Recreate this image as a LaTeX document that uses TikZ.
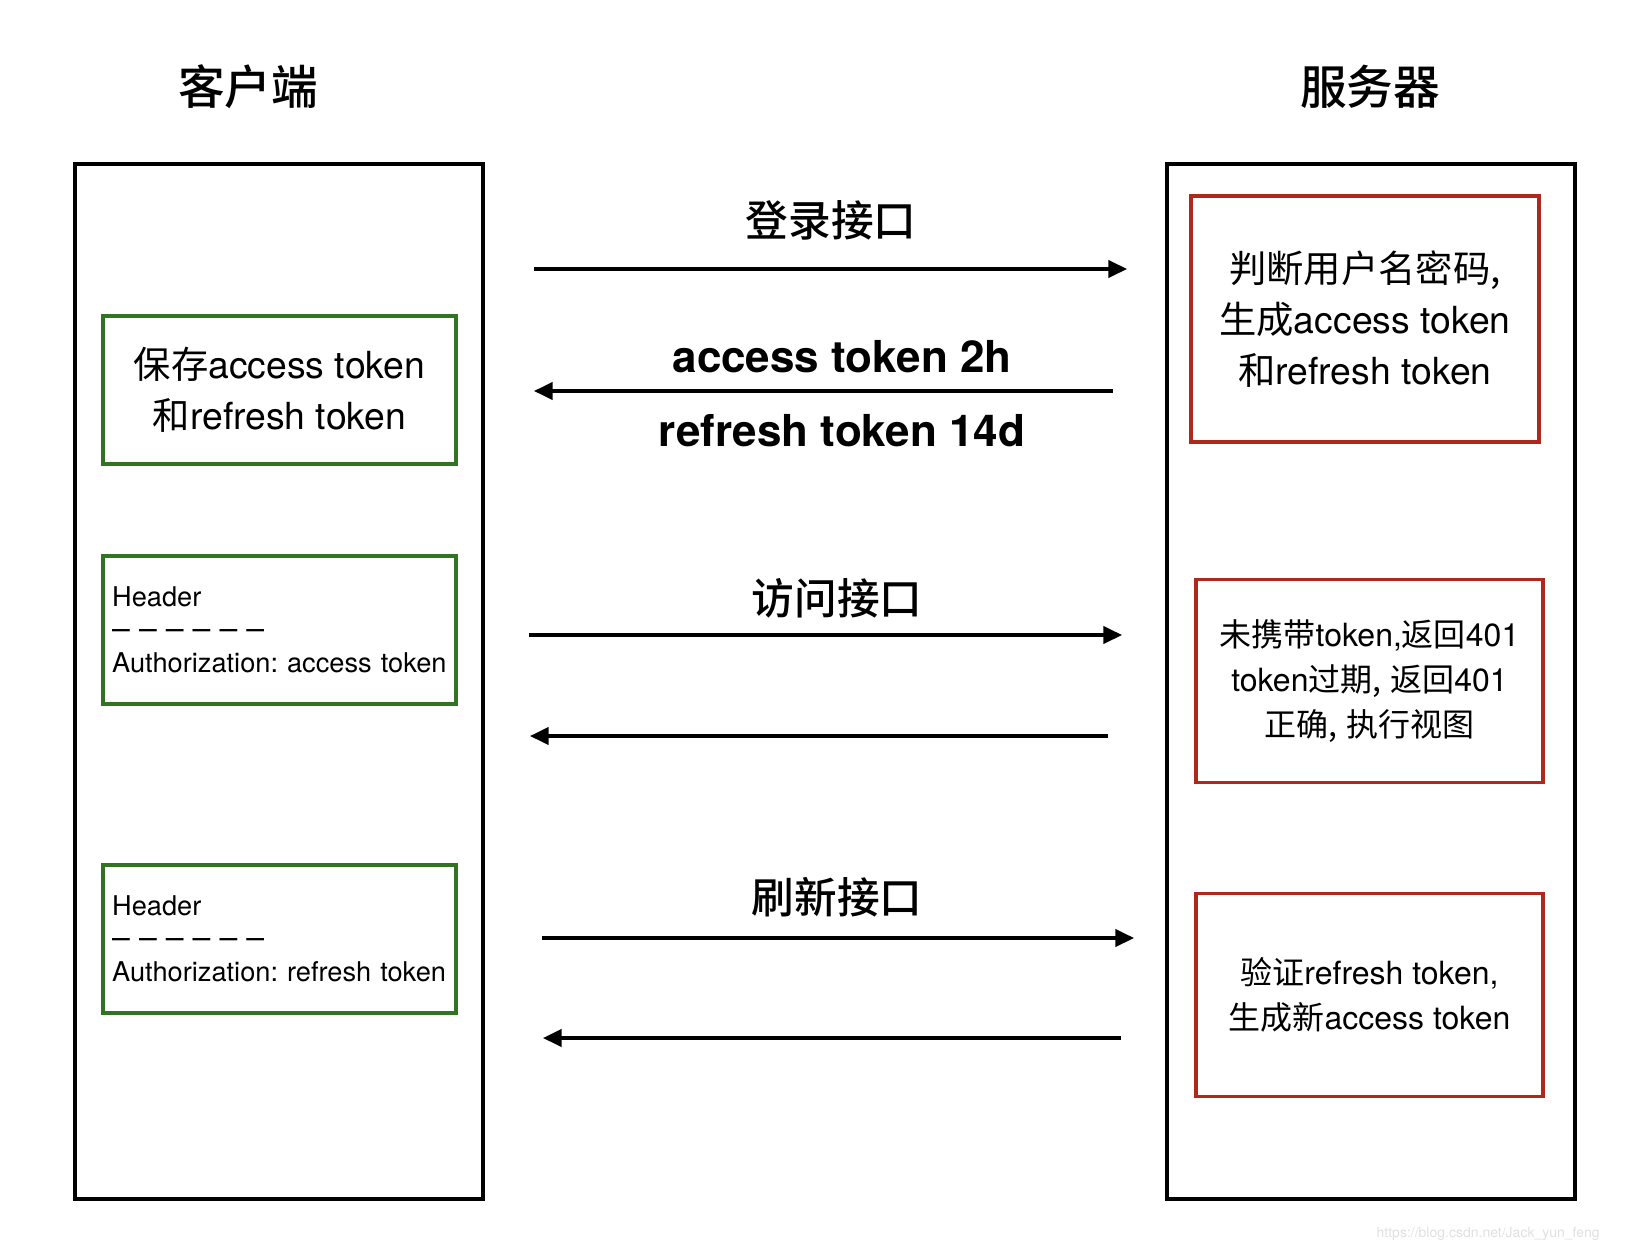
\documentclass[tikz,border=0pt]{standalone}
\usepackage{fontspec}
\setmainfont{TeX Gyre Heros}
\newfontfamily\cjk[BoldFont={Noto Sans CJK SC Medium}]{Noto Sans CJK SC}
\usetikzlibrary{arrows.meta}
\definecolor{boxgreen}{RGB}{50,115,35}
\definecolor{boxred}{RGB}{175,40,28}
\frenchspacing

\begin{document}
\begin{tikzpicture}[x=0.75pt,y=-0.75pt,
  side/.style={draw,line width=2.8pt,anchor=north west,minimum width=306pt,minimum height=776.25pt,inner sep=0pt},
  ttl/.style={font=\fontsize{35}{40}\selectfont\bfseries\cjk,inner sep=0pt},
  grn/.style={draw=boxgreen,line width=2.6pt,minimum width=264.75pt,minimum height=111pt,align=center,font=\fontsize{28}{38}\selectfont},
  hdr/.style={draw=boxgreen,line width=2.6pt,minimum height=111pt,align=left,text width=251pt,inner xsep=6.75pt,font=\fontsize{20.4}{24.75}\selectfont},
  big/.style={draw=boxred,line width=2.6pt,minimum width=261pt,minimum height=184.5pt,align=center,font=\fontsize{28}{38}\selectfont},
  sml/.style={draw=boxred,line width=2.6pt,minimum width=260.25pt,minimum height=152pt,align=center,font=\fontsize{24}{33.75}\selectfont},
  arr/.style={-{Triangle[length=14pt,width=13pt]},line width=2.6pt},
  lbl/.style={font=\fontsize{32}{36}\selectfont\bfseries,inner sep=0pt}]
 \useasboundingbox (0,0) rectangle (1636,1252);
 % ---- columns ----
 \node[side] (client) at (73,162) {};
 \node[side] (server) at (1165,162) {};
 \node[ttl] (ctitle) at (248,87) {客户端};
 \node[ttl] (stitle) at (1370,87) {服务器};
 % ---- client boxes ----
 \node[grn] (save) at (279.5,390) {{\cjk 保存}access token\\{\cjk 和}refresh token};
 \node[hdr] (hacc) at (279.5,630) {Header\\{\fontsize{24}{24.75}\selectfont – – – – – –}\\Authorization: access token};
 \node[hdr] (href) at (279.5,939) {Header\\{\fontsize{24}{24.75}\selectfont – – – – – –}\\Authorization: refresh token};
 % ---- server boxes ----
 \node[big] (login) at (1365,319) {{\cjk 判断用户名密码,}\\{\cjk 生成}access token\\{\cjk 和}refresh token};
 \node[sml] (check) at (1369.5,681) {{\cjk 未携带}token,{\cjk 返回}401\\token{\cjk 过期,} {\cjk 返回}401\\{\cjk 正确,} {\cjk 执行视图}};
 \node[sml] (renew) at (1369.5,995) {{\cjk 验证}refresh token,\\{\cjk 生成新}access token};
 % ---- arrows ----
 \coordinate (a1) at (534,269);  \coordinate (b1) at (1127,269);
 \coordinate (b2) at (1113,391); \coordinate (a2) at (534,391);
 \coordinate (a3) at (529,635);  \coordinate (b3) at (1122,635);
 \coordinate (b4) at (1108,736); \coordinate (a4) at (530,736);
 \coordinate (a5) at (542,938);  \coordinate (b5) at (1134,938);
 \coordinate (b6) at (1121,1038); \coordinate (a6) at (543,1038);
 \draw[arr] (a1) -- (b1);
 \draw[arr] (b2) -- (a2);
 \draw[arr] (a3) -- (b3);
 \draw[arr] (b4) -- (a4);
 \draw[arr] (a5) -- (b5);
 \draw[arr] (b6) -- (a6);
 \node[lbl] (l1) at (831,220) {\cjk 登录接口};
 \node[lbl,font=\fontsize{33}{36}\selectfont\bfseries] (l2) at (842,357) {access token 2h};
 \node[lbl,font=\fontsize{33}{36}\selectfont\bfseries] (l3) at (842,431) {refresh token 14d};
 \node[lbl] (l4) at (837,598) {\cjk 访问接口};
 \node[lbl] (l5) at (837,897) {\cjk 刷新接口};
 % ---- watermark ----
 \node[text=black!12,font=\fontsize{10.5}{12}\selectfont,anchor=east,inner sep=0pt] (mark) at (1600,1234) {https://blog.csdn.net/Jack\_yun\_feng};
\end{tikzpicture}
\end{document}
